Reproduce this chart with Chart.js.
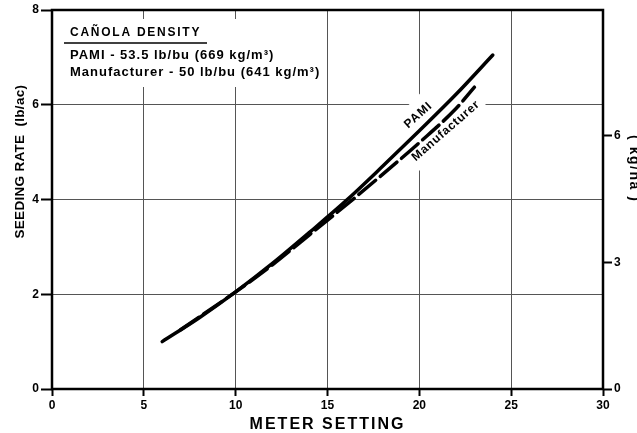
<!DOCTYPE html>
<html>
<head>
<meta charset="utf-8">
<script src="https://cdn.jsdelivr.net/npm/chart.js@4/dist/chart.umd.min.js"></script>
<style>
  html, body { margin: 0; padding: 0; background: #fff; }
  #wrap { width: 637px; height: 433px; }
</style>
</head>
<body>
<div id="wrap"><canvas id="chart"></canvas></div>
<script>
"use strict";

// Seeding rate (lb/ac) vs meter setting.
const pamiSetting = [6, 8, 10, 12, 14, 16, 18, 20, 22, 24];
const pamiRate = [1.0, 1.5, 2.05, 2.65, 3.3, 3.97, 4.7, 5.45, 6.22, 7.05];
const mfrSetting = [7, 10, 12, 14, 16, 18, 20, 22, 23];
const mfrRate = [1.25, 2.05, 2.62, 3.25, 3.88, 4.53, 5.2, 5.92, 6.37];

const xTicks = [0, 5, 10, 15, 20, 25, 30];
const yTicks = [0, 2, 4, 6, 8];
const kgTicks = [0, 3, 6];

const densityTitle = "CAÑOLA DENSITY";
const densityLines = [
  "PAMI - 53.5 lb/bu (669 kg/m³)",
  "Manufacturer - 50 lb/bu (641 kg/m³)",
];

const LB_AC_TO_KG_HA = 1.12085;
const FONT = "'Liberation Sans', Arial, sans-serif";

// where the curve labels sit (data units) and their tilt
const curveLabels = [
  { text: "PAMI", at: [19.95, 5.78], angle: 42, spacing: 1 },
  { text: "Manufacturer", at: [21.45, 5.45], angle: 41, spacing: 0.8 },
];
const labelBand = { at: [20.74, 5.7], len: 140, wide: 54, angle: 45 };

function pts(xs, ys) {
  return xs.map((x, i) => ({ x, y: ys[i] }));
}

function fixedTicks(list) {
  return (scale) => { scale.ticks = list.map((v) => ({ value: v })); };
}

function drawText(ctx, text, x, y, rot, font, spacing, align) {
  ctx.save();
  ctx.translate(x, y);
  ctx.rotate(rot);
  ctx.font = font;
  ctx.letterSpacing = spacing + "px";
  ctx.textAlign = align || "center";
  ctx.textBaseline = "middle";
  ctx.fillStyle = "#000";
  ctx.fillText(text, 0, 0);
  ctx.restore();
}

const decor = {
  id: "decor",
  beforeDatasetsDraw(chart) {
    const { ctx, chartArea: a, scales } = chart;
    ctx.save();
    ctx.fillStyle = "#fff";
    // clear grid behind the density note
    ctx.fillRect(a.left + 2, a.top + 9, 268, 68);
    // and behind the curve labels
    const bx = scales.x.getPixelForValue(labelBand.at[0]);
    const by = scales.y.getPixelForValue(labelBand.at[1]);
    ctx.translate(bx, by);
    ctx.rotate(-labelBand.angle * Math.PI / 180);
    ctx.fillRect(-labelBand.len / 2, -labelBand.wide / 2, labelBand.len, labelBand.wide);
    ctx.restore();
  },
  afterDatasetsDraw(chart) {
    const { ctx, scales } = chart;
    for (const l of curveLabels) {
      drawText(ctx, l.text, scales.x.getPixelForValue(l.at[0]), scales.y.getPixelForValue(l.at[1]),
        -l.angle * Math.PI / 180, "bold 12px " + FONT, l.spacing);
    }
  },
  afterDraw(chart) {
    const { ctx, chartArea: a, scales } = chart;
    ctx.save();
    ctx.strokeStyle = "#000";
    ctx.lineWidth = 2.5;
    ctx.strokeRect(a.left, a.top, a.right - a.left, a.bottom - a.top);

    // density note
    drawText(ctx, densityTitle, a.left + 18, a.top + 23, 0, "bold 12px " + FONT, 1.75, "left");
    ctx.lineWidth = 1.5;
    ctx.beginPath();
    ctx.moveTo(a.left + 12, a.top + 33);
    ctx.lineTo(a.left + 155, a.top + 33);
    ctx.stroke();
    densityLines.forEach((t, i) => {
      drawText(ctx, t, a.left + 18, a.top + 45 + i * 17, 0, "bold 13px " + FONT, 1.0, "left");
    });

    // axis titles
    drawText(ctx, "METER SETTING", (a.left + a.right) / 2, a.bottom + 36, 0, "bold 16px " + FONT, 2);
    drawText(ctx, "SEEDING RATE  (lb/ac)", 20, scales.y.getPixelForValue(4.8), -Math.PI / 2, "bold 13.5px " + FONT, 0.3);
    drawText(ctx, "( kg/ha )", a.right + 31, scales.y.getPixelForValue(4.65), Math.PI / 2, "bold 14px " + FONT, 1.5);
    ctx.restore();
  },
};

const tickFont = { family: FONT, size: 12, weight: "bold" };
const gridBase = { color: "#555", lineWidth: 1, tickColor: "#000", tickWidth: 2 };

new Chart(document.getElementById("chart"), {
  type: "line",
  data: {
    datasets: [
      {
        label: "PAMI",
        data: pts(pamiSetting, pamiRate),
        borderColor: "#000",
        borderWidth: 3.5,
        pointRadius: 0,
        cubicInterpolationMode: "monotone",
        borderCapStyle: "round",
      },
      {
        label: "Manufacturer",
        data: pts(mfrSetting, mfrRate),
        borderColor: "#000",
        borderWidth: 3.5,
        borderDash: [22, 6],
        pointRadius: 0,
        cubicInterpolationMode: "monotone",
        borderCapStyle: "round",
      },
    ],
  },
  options: {
    responsive: true,
    maintainAspectRatio: false,
    animation: false,
    devicePixelRatio: 1,
    layout: { padding: { top: 10, left: 0, right: 0, bottom: 0 } },
    plugins: { legend: { display: false }, tooltip: { enabled: false } },
    scales: {
      x: {
        type: "linear",
        position: "bottom",
        min: 0,
        max: 30,
        afterBuildTicks: fixedTicks(xTicks),
        afterFit: (s) => { s.height = 44; },
        ticks: { font: tickFont, color: "#000", padding: 2, maxRotation: 0 },
        grid: { ...gridBase, tickLength: 7 },
        border: { display: false },
      },
      y: {
        position: "left",
        min: 0,
        max: 8,
        afterBuildTicks: fixedTicks(yTicks),
        afterFit: (s) => { s.width = 52; },
        ticks: { font: tickFont, color: "#000", padding: 2 },
        grid: { ...gridBase, tickLength: 11 },
        border: { display: false },
      },
      y2: {
        position: "right",
        min: 0,
        max: 8 * LB_AC_TO_KG_HA,
        afterBuildTicks: fixedTicks(kgTicks),
        afterFit: (s) => { s.width = 34; },
        ticks: { font: tickFont, color: "#000", padding: 2 },
        grid: { ...gridBase, tickLength: 9, drawOnChartArea: false },
        border: { display: false },
      },
    },
  },
  plugins: [decor],
});
</script>
</body>
</html>
